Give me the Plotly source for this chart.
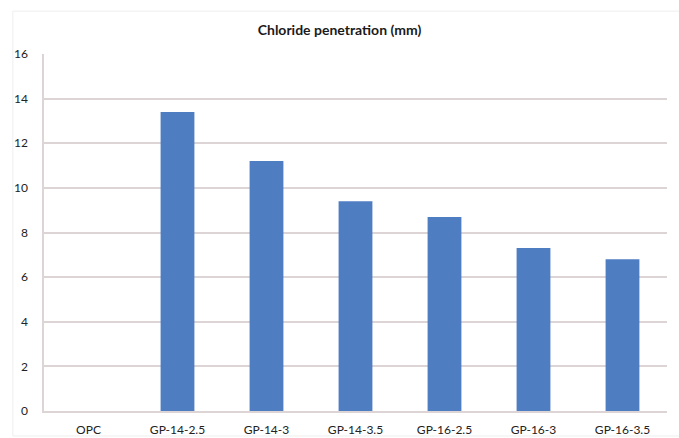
import plotly.graph_objects as go

categories = ["OPC", "GP-14-2.5", "GP-14-3", "GP-14-3.5", "GP-16-2.5", "GP-16-3", "GP-16-3.5"]
values = [0, 13.4, 11.2, 9.4, 8.7, 7.3, 6.8]
y_ticks = [0, 2, 4, 6, 8, 10, 12, 14, 16]

fig = go.Figure(go.Bar(x=categories, y=values, marker_color="#4F7DC2", marker_line_width=0))

fig.update_layout(
    width=679, height=438,
    margin=dict(l=44, r=12, t=54, b=27),
    paper_bgcolor="white", plot_bgcolor="white",
    bargap=0.62,
    title=dict(text="<b>Chloride penetration (mm)</b>", x=0.5, xanchor="center", y=0.932, yanchor="middle",
               font=dict(family="Lato", size=14, color="#1a1a1a")),
    font=dict(family="Lato", size=12, color="#222"),
    showlegend=False,
    shapes=[dict(type="rect", xref="paper", yref="paper", x0=-0.05, x1=1.02, y0=-0.07, y1=1.12,
                 line=dict(color="#EEEEEE", width=1))],
)
fig.update_yaxes(range=[0, 16], tickvals=y_ticks, showgrid=True, gridcolor="#DDD5D5", gridwidth=1.5,
                 showline=True, linecolor="#DDD5D5", linewidth=1.5, zeroline=False, automargin=False,
                 ticks="", ticklabelstandoff=12, tickfont=dict(size=12, color="#222"))
fig.update_xaxes(showline=True, linecolor="#DDD5D5", linewidth=1.5, ticks="", automargin=False,
                 ticklabelstandoff=7, tickfont=dict(size=12, color="#222"))

fig.write_html("out.html")
